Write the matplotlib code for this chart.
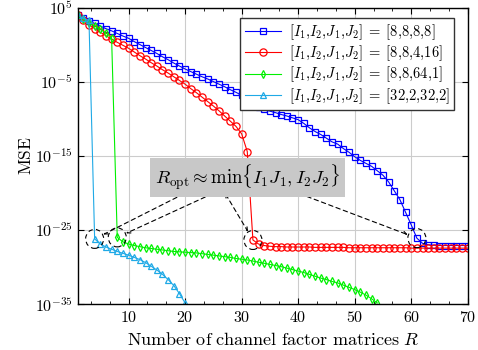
"""
MSE vs number of channel factor matrices R
"""

import numpy as np
import matplotlib
matplotlib.use('Agg')
import matplotlib.pyplot as plt
from matplotlib.patches import Ellipse
from matplotlib.transforms import ScaledTranslation
from matplotlib.ticker import MultipleLocator, FuncFormatter

plt.rcParams['mathtext.fontset'] = 'cm'
plt.rcParams['font.family'] = 'serif'
plt.rcParams['font.serif'] = ['DejaVu Serif']

# log10(MSE), one value per R
R_blue = np.arange(1, 71)
log_mse_blue = [4.0, 3.6, 3.25, 2.9, 2.55, 2.2, 1.9, 1.55, 1.2, 0.9,
                0.45, 0.05, -0.35, -0.75, -1.15, -1.6, -2.0, -2.45, -2.85, -3.25,
                -3.6, -3.95, -4.3, -4.6, -4.95, -5.3, -5.65, -6.05, -6.4, -6.8,
                -7.3, -7.9, -8.4, -8.7, -8.95, -9.15, -9.4, -9.6, -9.85, -10.1,
                -10.6, -11.2, -11.7, -12.1, -12.6, -13.1, -13.4, -14.0, -14.5, -15.1,
                -15.6, -16.0, -16.4, -17.0, -17.6, -18.5, -19.7, -20.9, -22.6, -24.3,
                -26.1, -26.8, -27.0, -27.05, -27.1, -27.1, -27.1, -27.1, -27.1, -27.1]

R_red = np.arange(1, 71)
log_mse_red = [4.0, 3.35, 2.75, 2.2, 1.7, 1.25, 0.8, 0.35, -0.05, -0.45,
               -0.95, -1.45, -1.9, -2.4, -2.85, -3.35, -3.8, -4.3, -4.8, -5.3,
               -5.9, -6.45, -7.05, -7.65, -8.25, -8.9, -9.6, -10.3, -11.0, -12.0,
               -14.4, -26.35, -26.9, -27.1, -27.2, -27.25, -27.25, -27.3, -27.3, -27.3,
               -27.3, -27.3, -27.35, -27.35, -27.35, -27.35, -27.35, -27.35, -27.4, -27.4,
               -27.4, -27.4, -27.4, -27.4, -27.4, -27.4, -27.4, -27.4, -27.4, -27.45,
               -27.45, -27.45, -27.45, -27.45, -27.45, -27.45, -27.45, -27.45, -27.45, -27.45]

R_green = np.arange(1, 55)
log_mse_green = [4.0, 3.5, 3.0, 2.55, 2.1, 1.6, 1.0, -26.0, -26.6, -26.9,
                 -27.1, -27.25, -27.4, -27.5, -27.6, -27.7, -27.8, -27.9, -27.95, -28.0,
                 -28.05, -28.1, -28.2, -28.3, -28.4, -28.5, -28.6, -28.7, -28.85, -28.95,
                 -29.05, -29.2, -29.35, -29.5, -29.65, -29.8, -29.95, -30.15, -30.35, -30.55,
                 -30.75, -31.0, -31.25, -31.5, -31.7, -31.95, -32.15, -32.45, -32.75, -33.05,
                 -33.4, -33.8, -34.3, -34.85]

R_cyan = np.arange(1, 21)
log_mse_cyan = [4.0, 3.6, 3.3, -26.2, -26.9, -27.3, -27.6, -27.9, -28.15, -28.4,
                -28.7, -29.0, -29.4, -29.9, -30.4, -31.0, -31.7, -32.5, -33.6, -34.85]

labels = [r'$[I_1{,}I_2{,}J_1{,}J_2]\;=\;[8{,}8{,}8{,}8]$',
          r'$[I_1{,}I_2{,}J_1{,}J_2]\;=\;[8{,}8{,}4{,}16]$',
          r'$[I_1{,}I_2{,}J_1{,}J_2]\;=\;[8{,}8{,}64{,}1]$',
          r'$[I_1{,}I_2{,}J_1{,}J_2]\;=\;[32{,}2{,}32{,}2]$']

# R_opt points that get circled
R_opt = [4, 8, 32, 61]

fig = plt.figure(figsize=(4.78, 3.5), dpi=100)
ax = fig.add_axes([0.1625, 0.1314, 0.816, 0.846])

series = [(R_blue, log_mse_blue, 'blue', 's', 5.0),
          (R_red, log_mse_red, 'red', 'o', 5.2),
          (R_green, log_mse_green, '#00f000', 'd', 4.2),
          (R_cyan, log_mse_cyan, '#1fa9e6', '^', 4.8)]
for (r, v, c, m, ms), lab in zip(series, labels):
    ax.semilogy(r, 10.0 ** np.array(v), color=c, marker=m, ms=ms, mfc='none',
                mew=0.9, lw=0.8, label=lab)

ax.set_xlim(1, 70)
ax.set_ylim(1e-35, 1e5)
ax.set_xticks([10, 20, 30, 40, 50, 60, 70])
ax.xaxis.set_minor_locator(MultipleLocator(10 / 3))
ax.set_yticks([1e5, 1e-5, 1e-15, 1e-25, 1e-35])
ax.yaxis.set_minor_locator(plt.NullLocator())
ax.xaxis.set_major_formatter(FuncFormatter(lambda v, p: r'$%d$' % v))
ax.yaxis.set_major_formatter(FuncFormatter(lambda v, p: r'$10^{%d}$' % round(np.log10(v))))
ax.tick_params(which='both', direction='in', top=True, right=True, labelsize=11.5)
ax.tick_params(which='major', length=4)
ax.tick_params(which='minor', length=2.5)
ax.grid(True, which='major', color='#cccccc', lw=0.8)
ax.set_axisbelow(True)
for s in ax.spines.values():
    s.set_linewidth(1.0)

ax.set_xlabel(r'$\mathrm{Number\ of\ channel\ factor\ matrices}\ R$', fontsize=13, labelpad=4)
ax.set_ylabel(r'$\mathrm{MSE}$', fontsize=12.5, labelpad=0)

leg = ax.legend(loc='upper right', bbox_to_anchor=(0.965, 0.965), fontsize=10.5,
                fancybox=False, framealpha=1, edgecolor='#333333', borderaxespad=0,
                handlelength=2.5, labelspacing=0.1, borderpad=0.3, handletextpad=0.5)
leg.get_frame().set_linewidth(1.0)

# annotation box and dashed arrows to the R_opt points
ax.text(0.435, 0.428, r'$R_{\rm opt} \approx \min\{I_1 J_1, I_2 J_2\}$',
        transform=ax.transAxes, ha='center', va='center', fontsize=13.5, zorder=6,
        bbox=dict(boxstyle='square,pad=0.25', fc='#c8c8c8', ec='none'))

pts = [(R_cyan, log_mse_cyan), (R_green, log_mse_green),
       (R_red, log_mse_red), (R_blue, log_mse_blue)]
starts = [(0.275, 0.374), (0.348, 0.374), (0.378, 0.374), (0.566, 0.374)]
for (r, v), ro, st in zip(pts, R_opt, starts):
    y = 10.0 ** v[list(r).index(ro)]
    ax.annotate('', xy=(ro, y), xycoords='data', xytext=st, textcoords='axes fraction',
                arrowprops=dict(arrowstyle='<->', linestyle=(0, (4, 3)), lw=0.8,
                                color='black', shrinkA=0, shrinkB=7,
                                mutation_scale=6), zorder=5)
    tr = fig.dpi_scale_trans + ScaledTranslation(ro, y, ax.transData)
    ax.add_patch(Ellipse((0, 0), 0.18, 0.19, transform=tr, fill=False, ec='black',
                         lw=0.8, ls=(0, (4, 3)), zorder=5, clip_on=False))

plt.savefig('out.png', dpi=100)
plt.close()
